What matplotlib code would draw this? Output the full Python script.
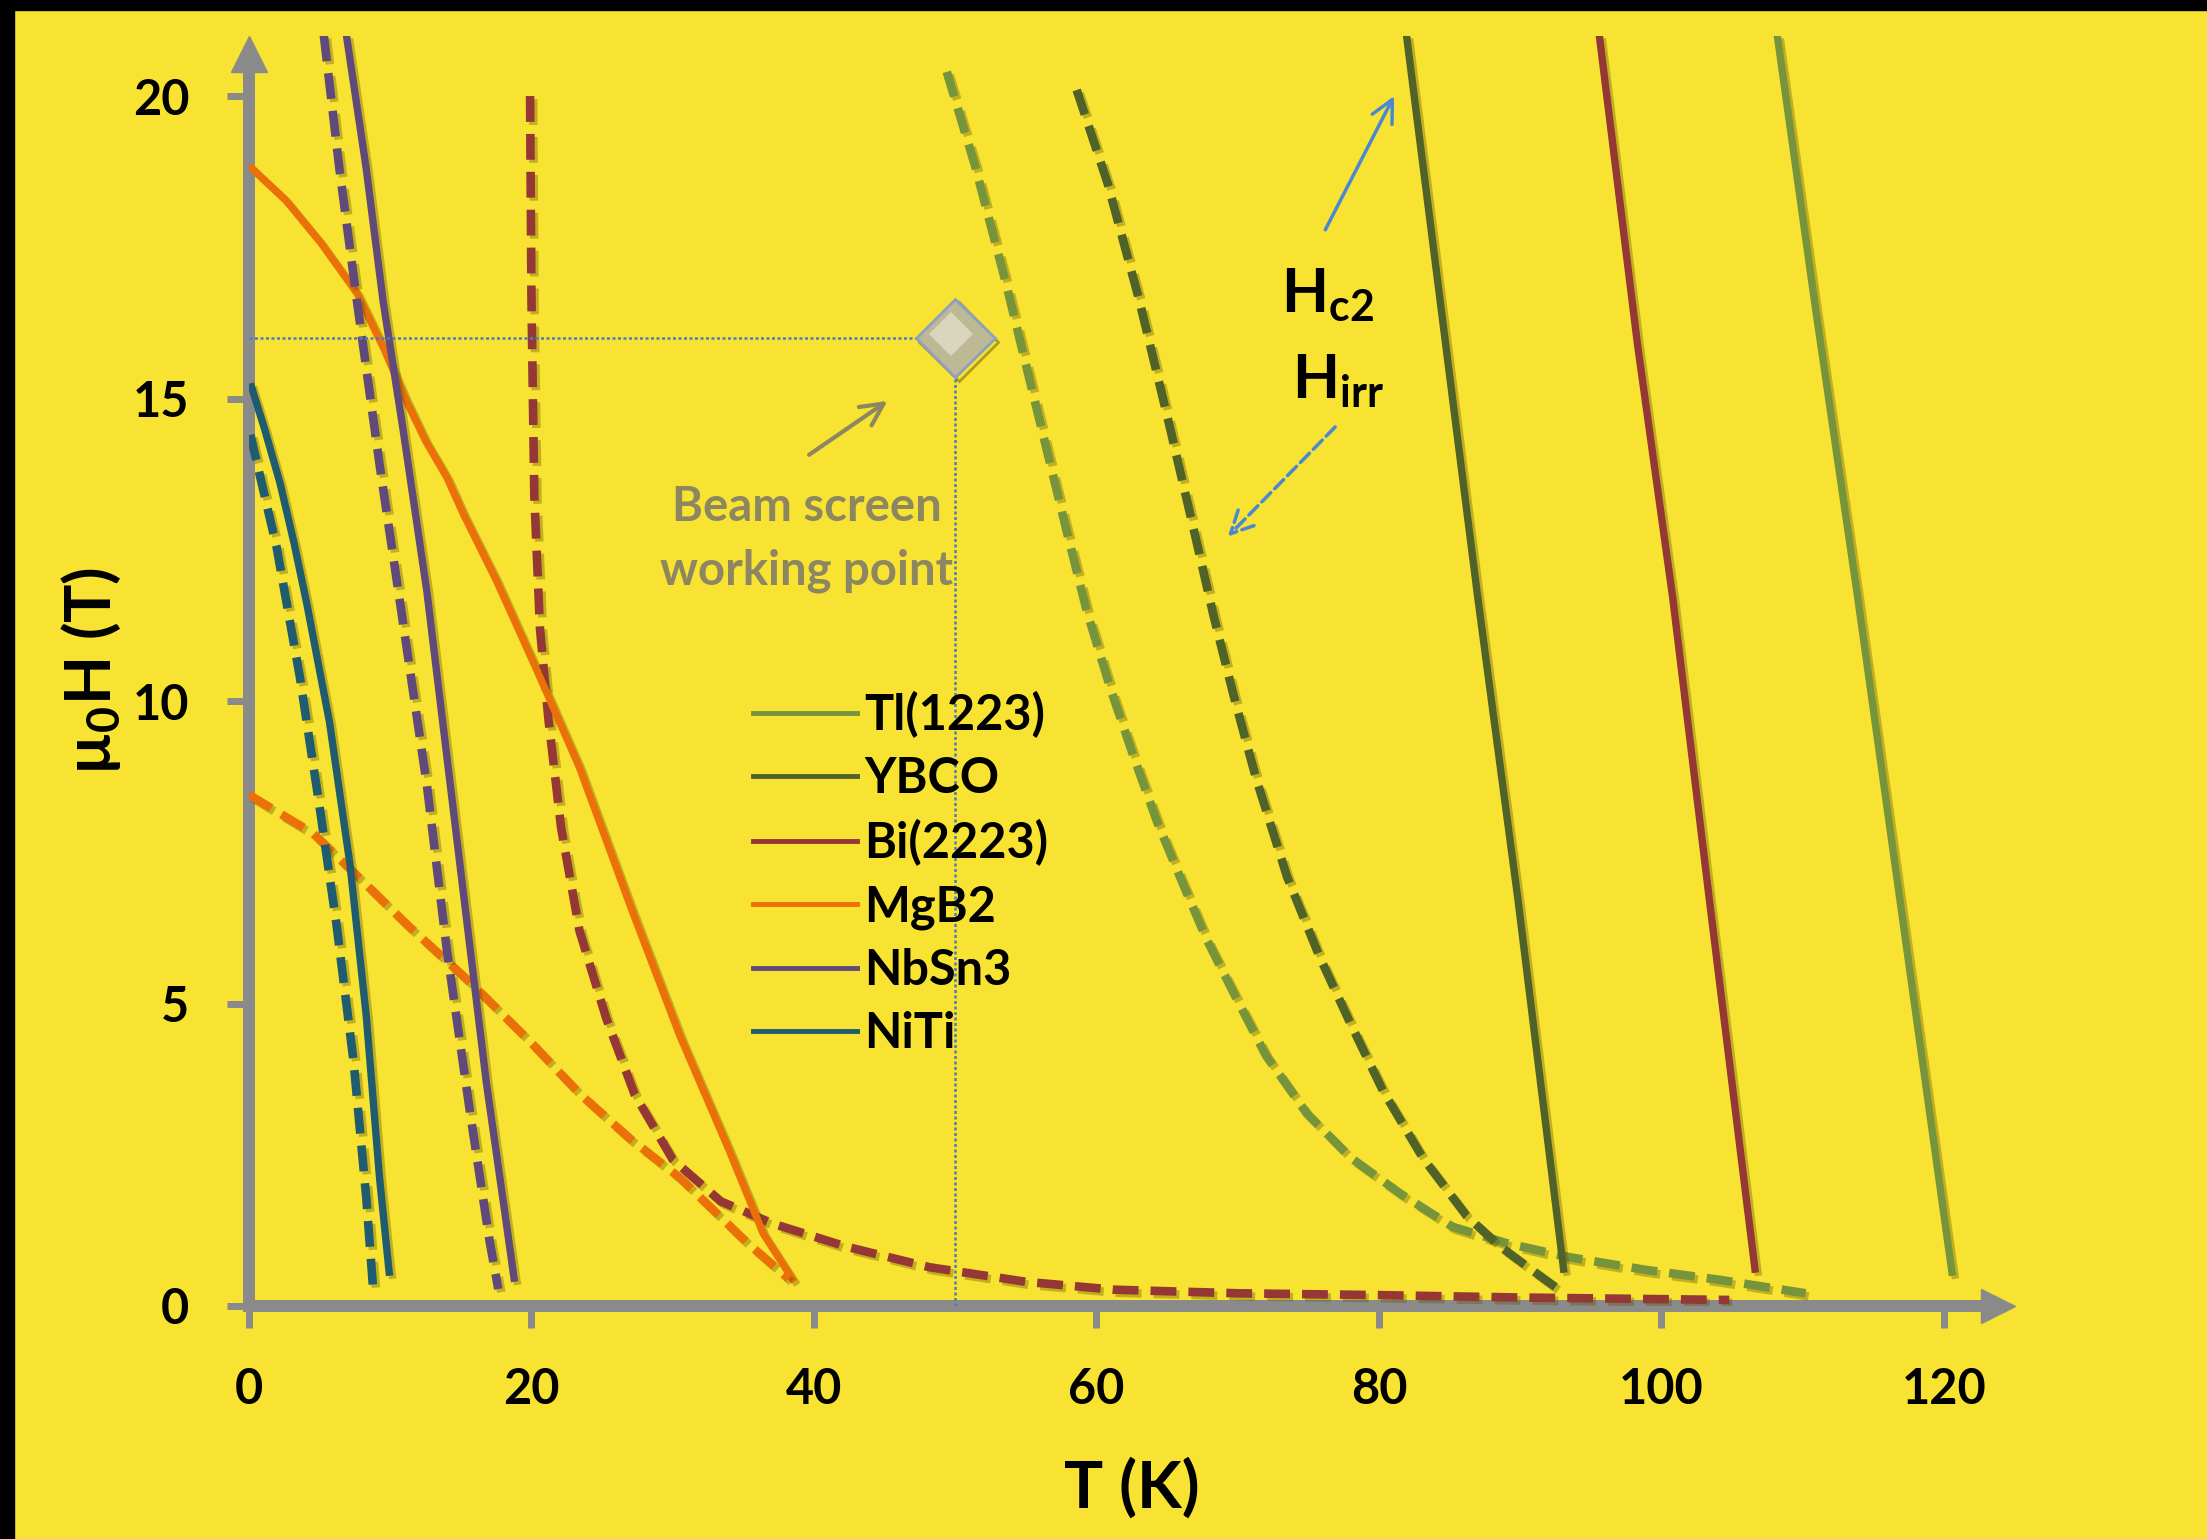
import matplotlib
matplotlib.use('Agg')
import matplotlib.pyplot as plt
import matplotlib.patheffects as pe
from matplotlib.lines import Line2D
from matplotlib.patches import Rectangle
from matplotlib.transforms import offset_copy

plt.rcParams['font.family'] = ['Lato', 'DejaVu Sans']
plt.rcParams['font.weight'] = 'bold'
plt.rcParams['axes.labelweight'] = 'bold'
plt.rcParams['mathtext.default'] = 'regular'

# materials, in legend order
names = ['Tl(1223)', 'YBCO', 'Bi(2223)', 'MgB2', 'NbSn3', 'NiTi']
colors = ['#76943C', '#4F6228', '#953735', '#EC7009', '#604A7B', '#1F5C70']

# upper critical field Hc2 (solid)
tl_hc2_T = [108.2, 110.9, 113.9, 120.6]
tl_hc2_H = [21.0, 16.5, 11.7, 0.5]
ybco_hc2_T = [81.95, 87.0, 89.85, 93.1]
ybco_hc2_H = [21.0, 11.7, 6.7, 0.55]
bi_hc2_T = [95.6, 98.3, 100.8, 103.4, 106.65]
bi_hc2_H = [21.0, 15.9, 11.7, 6.7, 0.55]
mgb2_hc2_T = [0.0, 2.6, 5.1, 7.65, 9.6, 11.1, 12.5, 14.0, 15.2, 17.5, 20.4, 23.4,
              27.1, 30.5, 34.0, 36.4, 38.6]
mgb2_hc2_H = [18.85, 18.28, 17.57, 16.74, 15.8, 14.98, 14.3, 13.7, 13.08, 12.0, 10.5,
              8.9, 6.55, 4.47, 2.57, 1.2, 0.4]
nbsn3_hc2_T = [6.9, 8.3, 9.5, 10.9, 12.6, 14.0, 15.4, 16.8, 18.2, 18.8]
nbsn3_hc2_H = [21.0, 18.8, 16.6, 14.5, 11.8, 9.1, 6.4, 3.7, 1.4, 0.4]
niti_hc2_T = [0.1, 1.1, 2.2, 3.2, 4.1, 5.7, 7.15, 8.3, 9.25, 9.95]
niti_hc2_H = [15.25, 14.5, 13.6, 12.6, 11.6, 9.65, 7.3, 4.8, 2.1, 0.5]

# irreversibility field Hirr (dashed)
tl_irr_T = [49.4, 51.4, 53.6, 55.8, 57.9, 59.3, 61.0, 62.6, 64.3, 65.9, 67.8, 69.7,
            72.0, 74.9, 78.0, 81.5, 85.2, 89.0, 93.4, 98.8, 104.2, 110.2]
tl_irr_H = [20.4, 18.85, 16.9, 14.8, 12.8, 11.5, 10.2, 9.1, 8.0, 7.1, 6.06, 5.18,
            4.14, 3.18, 2.45, 1.86, 1.31, 1.04, 0.81, 0.6, 0.43, 0.21]
ybco_irr_T = [58.6, 60.8, 63.0, 65.1, 67.0, 68.3, 69.7, 71.3, 73.5, 75.8, 78.0, 80.3,
              83.1, 86.2, 88.6, 90.8, 92.8]
ybco_irr_H = [20.1, 18.55, 16.65, 14.62, 12.72, 11.4, 10.1, 8.72, 7.09, 5.77, 4.66,
              3.55, 2.45, 1.49, 0.98, 0.6, 0.26]
bi_irr_T = [19.9, 20.0, 20.2, 20.6, 21.2, 22.1, 23.4, 25.3, 27.3, 30.0, 33.4, 37.1,
            42.3, 48.2, 55.0, 61.2, 70.0, 80.0, 90.0, 104.8]
bi_irr_H = [20.0, 16.6, 13.4, 11.2, 9.7, 7.9, 6.2, 4.75, 3.5, 2.42, 1.73, 1.36,
            0.98, 0.64, 0.4, 0.27, 0.21, 0.18, 0.14, 0.1]
mgb2_irr_T = [0.0, 4.55, 7.4, 11.2, 15.7, 19.9, 23.4, 27.0, 30.5, 35.2, 38.2]
mgb2_irr_H = [8.45, 7.81, 7.17, 6.3, 5.34, 4.37, 3.51, 2.76, 2.12, 1.06, 0.45]
nbsn3_irr_T = [5.3, 6.4, 7.65, 9.25, 10.9, 12.6, 14.0, 15.65, 17.05, 17.65]
nbsn3_irr_H = [21.0, 18.8, 16.6, 13.9, 11.3, 8.6, 5.9, 3.2, 1.05, 0.28]
niti_irr_T = [0.1, 1.95, 3.6, 5.0, 6.2, 7.4, 8.3, 8.8]
niti_irr_H = [14.4, 12.55, 10.4, 8.25, 6.3, 4.05, 1.8, 0.25]

# beam screen working point
wp_T = [50]
wp_H = [16]

xticks = [0, 20, 40, 60, 80, 100, 120]
yticks = [0, 5, 10, 15, 20]

hc2 = [(tl_hc2_T, tl_hc2_H), (ybco_hc2_T, ybco_hc2_H), (bi_hc2_T, bi_hc2_H),
       (mgb2_hc2_T, mgb2_hc2_H), (nbsn3_hc2_T, nbsn3_hc2_H), (niti_hc2_T, niti_hc2_H)]
hirr = [(tl_irr_T, tl_irr_H), (ybco_irr_T, ybco_irr_H), (bi_irr_T, bi_irr_H),
        (mgb2_irr_T, mgb2_irr_H), (nbsn3_irr_T, nbsn3_irr_H), (niti_irr_T, niti_irr_H)]

bg = '#F8E232'
gray = '#8A8A8A'
blue = '#4A88D2'
note = '#8C8760'

fig = plt.figure(figsize=(22.07, 15.39), dpi=100, facecolor=bg)
ax = fig.add_axes([0.11282, 0.1514, 0.8000, 0.8255])
ax.set_facecolor(bg)
ax.set_xlim(0, 125)
ax.set_ylim(0, 21)

shadow = [pe.SimpleLineShadow(offset=(2.2, -2.2), shadow_color='#5c5200', alpha=0.35),
          pe.Normal()]

for c, (tc, hc), (ti, hi) in zip(colors, hc2, hirr):
    ax.plot(tc, hc, color=c, lw=5.3, solid_capstyle='butt', solid_joinstyle='round',
            path_effects=shadow, zorder=3)
    ax.plot(ti, hi, color=c, lw=6.2, ls=(0, (3.0, 1.4)), dash_capstyle='butt',
            path_effects=shadow, zorder=3)

# dotted guides to the working point
ax.plot([0, wp_T[0]], [wp_H[0], wp_H[0]], color='#4A7EBB', lw=1.8, ls=(0, (1.2, 1)), zorder=4)
ax.plot([wp_T[0], wp_T[0]], [0, wp_H[0]], color='#4A7EBB', lw=1.8, ls=(0, (1.2, 1)), zorder=4)
ax.plot(wp_T, wp_H, marker='D', ms=40, mfc='#BDB995', mec='#8EA0C0', mew=2, ls='none',
        zorder=5, path_effects=[pe.SimpleLineShadow(offset=(2.5, -2.5), alpha=0.3), pe.Normal()])
ax.plot(wp_T, wp_H, marker='D', ms=22, mfc='#E4E1CC', mew=0, ls='none', alpha=0.75, zorder=6,
        transform=offset_copy(ax.transData, fig=fig, x=-3, y=3, units='points'))

ax.text(39.5, 12.98, 'Beam screen', color=note, fontsize=34, ha='center', va='baseline')
ax.text(39.5, 11.93, 'working point', color=note, fontsize=34, ha='center', va='baseline')
ax.annotate('', xy=(45.2, 14.96), xytext=(39.65, 14.07),
            arrowprops=dict(arrowstyle='->', color=note, lw=3, mutation_scale=40,
                            shrinkA=0, shrinkB=0))

ax.text(73.06, 16.43, 'H$_{c2}$', fontsize=44, ha='left', va='baseline')
ax.text(73.85, 15.0, 'H$_{irr}$', fontsize=44, ha='left', va='baseline')
ax.annotate('', xy=(81.07, 20.0), xytext=(76.2, 17.79),
            arrowprops=dict(arrowstyle='->', color=blue, lw=2.5, mutation_scale=40,
                            shrinkA=0, shrinkB=0))
ax.annotate('', xy=(69.3, 12.72), xytext=(76.9, 14.53),
            arrowprops=dict(arrowstyle='->', color=blue, lw=2.5, ls='--', mutation_scale=40,
                            shrinkA=0, shrinkB=0))

# axes: thick gray lines with arrow heads
for s in ['top', 'right']:
    ax.spines[s].set_visible(False)
for s in ['left', 'bottom']:
    ax.spines[s].set_color(gray)
    ax.spines[s].set_linewidth(8.6)
    ax.spines[s].set_zorder(2)
ax.spines['bottom'].set_bounds(0, 123)
ax.spines['left'].set_bounds(0, 20.5)
ax.plot([1], [0], marker='>', ms=24, color=gray, clip_on=False, zorder=2,
        transform=offset_copy(ax.transAxes, fig=fig, x=-12, y=0, units='points'))
ax.plot([0], [1], marker='^', ms=26, color=gray, clip_on=False, zorder=2,
        transform=offset_copy(ax.transAxes, fig=fig, x=0, y=-13, units='points'))

ax.set_xticks(xticks)
ax.set_yticks(yticks)
ax.tick_params(axis='both', direction='out', length=16, width=5, color=gray,
               labelsize=35, labelcolor='black')
ax.tick_params(axis='x', pad=28)
ax.tick_params(axis='y', pad=27)

ax.set_xlabel('T (K)', fontsize=47)
ax.xaxis.set_label_coords(0.5, -0.1189)
ax.set_ylabel('µ$_0$H (T)', fontsize=46)
ax.yaxis.set_label_coords(-0.0714, 0.5)

handles = [Line2D([], [], color=c, lw=3.5) for c in colors]
ax.legend(handles, names, loc='upper left', bbox_to_anchor=(753 / 2207, 1 - 691 / 1539),
          bbox_transform=fig.transFigure, frameon=False, fontsize=35, handlelength=2.14,
          handletextpad=0.15, labelspacing=0.37, borderpad=0, borderaxespad=0)

# black frame strips along top and left edge
fig.add_artist(Rectangle((0, 1 - 10 / 1539), 1, 10 / 1539, transform=fig.transFigure,
                         color='black', zorder=10))
fig.add_artist(Rectangle((0, 0), 14 / 2207, 1, transform=fig.transFigure,
                         color='black', zorder=10))

fig.savefig('out.png', dpi=100, facecolor=bg)
